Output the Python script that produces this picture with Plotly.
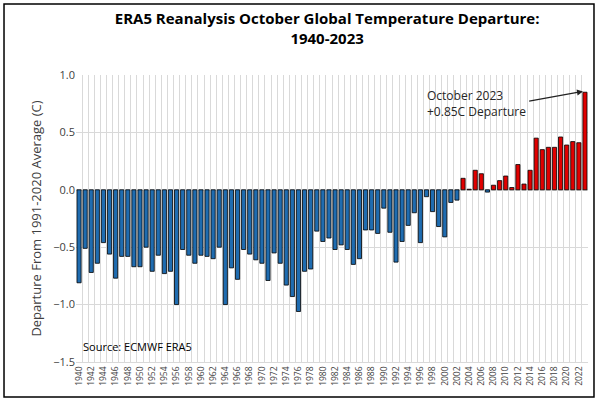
import plotly.graph_objects as go

years = list(range(1940, 2024))
values = [-0.81, -0.51, -0.72, -0.64, -0.46, -0.56, -0.77, -0.58, -0.58, -0.67,
          -0.67, -0.50, -0.71, -0.57, -0.73, -0.71, -1.00, -0.52, -0.57, -0.64,
          -0.57, -0.58, -0.60, -0.50, -1.00, -0.68, -0.78, -0.52, -0.56, -0.61,
          -0.64, -0.79, -0.55, -0.64, -0.83, -0.93, -1.06, -0.71, -0.69, -0.36,
          -0.45, -0.42, -0.52, -0.48, -0.52, -0.65, -0.60, -0.35, -0.35, -0.38,
          -0.16, -0.37, -0.63, -0.45, -0.31, -0.20, -0.46, -0.06, -0.19, -0.32,
          -0.41, -0.11, -0.09, 0.10, 0.005, 0.17, 0.14, -0.02, 0.04, 0.08,
          0.12, 0.02, 0.22, 0.05, 0.17, 0.45, 0.35, 0.37, 0.37, 0.46,
          0.39, 0.42, 0.41, 0.85]
tick_years = list(range(1940, 2024, 2))
colors = ["#e00000" if v > 0 else "#1f6cb0" for v in values]

fig = go.Figure(go.Bar(x=years, y=values, marker=dict(color=colors, line=dict(color="black", width=0.8)), width=0.68))
fig.update_layout(
    width=598, height=401, margin=dict(l=76, r=10, t=75, b=39),
    paper_bgcolor="white", plot_bgcolor="white", showlegend=False,
    font=dict(family="Open Sans, Calibri, sans-serif", color="#404040"),
    title=dict(text="<b>ERA5 Reanalysis October Global Temperature Departure:<br>1940-2023</b>",
               x=0.547, xanchor="center", y=0.94, yanchor="top", font=dict(size=15, color="black")),
    shapes=[dict(type="rect", xref="paper", yref="paper", x0=-0.1406, x1=1.0117, y0=-0.122, y1=1.247,
                 line=dict(color="black", width=1.5))],
)
fig.update_xaxes(range=[1939.5, 2023.5], tickmode="array", tickvals=tick_years, ticktext=[str(y) for y in tick_years],
                 tickangle=-90, tickfont=dict(size=8.5, color="#404040"), showgrid=False, ticks="",
                 minor=dict(tick0=1939.5, dtick=1, showgrid=True, gridcolor="#d9d9d9", gridwidth=1),
                 showline=True, linecolor="#d9d9d9")
fig.update_yaxes(range=[-1.5, 1.0], dtick=0.5, tickformat=".1f", gridcolor="#d9d9d9", zeroline=True,
                 zerolinecolor="#d9d9d9", tickfont=dict(size=11, color="#404040"),
                 title=dict(text="Departure From 1991-2020 Average (C)", font=dict(size=13, color="#404040"), standoff=8))
fig.add_annotation(x=2023, y=0.86, ax=2013.6, ay=0.77, xref="x", yref="y", axref="x", ayref="y",
                   showarrow=True, arrowhead=2, arrowsize=1, arrowwidth=1.2, arrowcolor="#222", text="", standoff=2)
fig.add_annotation(x=1996.8, y=0.75, xref="x", yref="y", text="October 2023<br>+0.85C Departure", showarrow=False,
                   xanchor="left", align="left", font=dict(size=12, color="#262626"))
fig.add_annotation(x=0.01, y=0.02, xref="paper", yref="paper", text="Source: ECMWF ERA5", showarrow=False,
                   xanchor="left", yanchor="bottom", font=dict(size=11, color="black"))
fig.write_html("out.html", config={"displayModeBar": False},
               post_script="document.body.style.margin='0';document.body.style.overflow='hidden';")
